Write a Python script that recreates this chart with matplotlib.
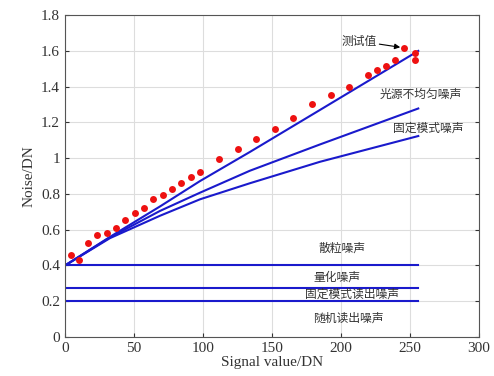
import matplotlib
matplotlib.use("Agg")
import matplotlib.pyplot as plt

# measured values (red dots)
meas_x = [4.3, 10.1, 16.7, 23.4, 30.2, 37.0, 43.7, 50.5, 57.2, 64.0, 70.8, 77.5,
          84.3, 91.1, 97.8, 111.6, 125.1, 138.4, 152.2, 165.4, 179.0, 192.5,
          205.8, 219.3, 226.1, 232.6, 239.4, 245.9, 253.5, 253.5]
meas_y = [0.458, 0.428, 0.527, 0.568, 0.583, 0.607, 0.654, 0.691, 0.721, 0.770,
          0.794, 0.825, 0.859, 0.894, 0.924, 0.997, 1.051, 1.107, 1.164, 1.224,
          1.304, 1.354, 1.398, 1.463, 1.494, 1.515, 1.547, 1.617, 1.59, 1.55]

# model curves
curve_x = [0, 32.6, 68.8, 97.8, 134, 184.8, 256]
light_y = [0.40, 0.560, 0.730, 0.872, 1.035, 1.270, 1.600]   # 光源不均匀噪声
fixed_y = [0.40, 0.557, 0.705, 0.807, 0.930, 1.077, 1.278]   # 固定模式噪声
shot_y = [0.40, 0.553, 0.678, 0.770, 0.860, 0.980, 1.124]    # 散粒噪声 (total)
flat_x = [0, 256]
quant_y = [0.40, 0.40]
fpn_read_y = [0.275, 0.275]
rand_read_y = [0.20, 0.20]

labels = ["测试值", "光源不均匀噪声", "固定模式噪声", "散粒噪声", "量化噪声",
          "固定模式读出噪声", "随机读出噪声"]
label_pos = [(213, 1.655), (258, 1.358), (263, 1.168), (201, 0.497),
             (197, 0.335), (208, 0.239), (205, 0.108)]

cjk = ["Noto Sans CJK SC", "DejaVu Sans"]
plt.rcParams["font.family"] = "Liberation Serif"

fig = plt.figure(figsize=(4.94, 3.76), dpi=100)
ax = fig.add_axes([0.1316, 0.1037, 0.838, 0.856])

for yy in (light_y, fixed_y, shot_y):
    ax.plot(curve_x, yy, color="#1a1acc", lw=1.5, zorder=2)
for yy in (quant_y, fpn_read_y, rand_read_y):
    ax.plot(flat_x, yy, color="#1a1acc", lw=1.5, zorder=2)
ax.plot(meas_x, meas_y, "o", color="#ee1111", ms=5, mec="none", zorder=3)

for i, (t, (px, py)) in enumerate(zip(labels, label_pos)):
    if i == 0:
        ax.annotate(t, xy=(meas_x[27], meas_y[27]), xytext=(px, py),
                    ha="center", va="center", family=cjk, fontsize=8.5,
                    color="#333333",
                    arrowprops=dict(arrowstyle="-|>", color="black", lw=0.8,
                                    shrinkA=0, shrinkB=3, mutation_scale=8))
    else:
        ax.text(px, py, t, ha="center", va="center", family=cjk,
                fontsize=8.5, color="#333333")

ax.set_xlim(0, 300)
ax.set_ylim(0, 1.8)
ax.set_xticks(range(0, 301, 50))
ax.set_yticks([0, 0.2, 0.4, 0.6, 0.8, 1, 1.2, 1.4, 1.6, 1.8])
ax.set_yticklabels(["0", "0.2", "0.4", "0.6", "0.8", "1", "1.2", "1.4", "1.6", "1.8"])
ax.grid(True, color="#dddddd", lw=0.8)
ax.set_axisbelow(True)
ax.tick_params(direction="in", labelsize=11, length=3, top=False, right=True,
               colors="#333333", labelcolor="#333333")
for s in ax.spines.values():
    s.set_color("#555555")
ax.set_xlabel("Signal value/DN", fontsize=11, color="#333333", labelpad=1)
ax.set_ylabel("Noise/DN", fontsize=11, color="#333333", labelpad=4)

fig.savefig("out.png", dpi=100)
